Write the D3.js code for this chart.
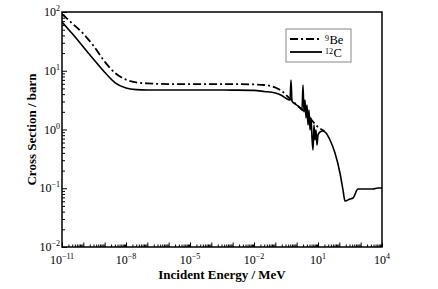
<!DOCTYPE html>
<html>
<head>
<meta charset="utf-8">
<script src="https://cdn.jsdelivr.net/npm/d3@7"></script>
<style>
  body { margin: 0; background: #fff; }
  text { font-family: "Liberation Serif", "Times New Roman", serif; }
</style>
</head>
<body>
<div id="main"></div>
<script>
const ctx = { w: 438, h: 289 };
const margin = { top: 12, right: 56, bottom: 42, left: 62 };

// values (energy in MeV, cross section in barn)
const cEnergy = [1e-11, 3e-11, 1e-10, 3e-10, 1e-9, 3e-9, 1e-8, 3e-8, 1e-7, 1e-6, 1e-4, 1e-3, 1e-2, 3e-2, 0.1, 0.2, 0.4,
    0.487, 0.542, 0.604, 0.836, 1.155, 1.43, 1.78, 1.98, 2.21, 2.46, 2.74, 3.05, 3.40, 3.78, 4.22, 4.70, 5.24, 5.83,
    6.49, 7.23, 8.05, 8.97, 10.0, 12.4, 17.1, 23.7, 36.5, 62.6, 107, 149, 184, 316, 437, 750, 1600, 3790, 6490, 1e4];
const cSigma = [67.6, 42.9, 25.4, 15.7, 9.42, 6.3, 5.07, 4.77, 4.70, 4.70, 4.70, 4.68, 4.64, 4.44, 4.18, 3.79, 3.24,
    3.18, 6.97, 3.05, 2.72, 2.51, 2.32, 2.15, 5.71, 1.99, 3.18, 1.57, 2.61, 1.19, 2.15, 0.98, 1.57, 0.716, 0.448,
    1.19, 0.662, 0.98, 0.544, 0.805, 0.906, 0.942, 0.871, 0.662, 0.398, 0.182, 0.093, 0.0607, 0.0656, 0.0682, 0.097, 0.097, 0.097, 0.101, 0.101];

const beEnergy = [1e-11, 3e-11, 1e-10, 3e-10, 1e-9, 3e-9, 1e-8, 3e-8, 1e-7, 1e-6, 1e-3, 1e-2, 3e-2, 0.1, 0.2, 0.4, 0.8, 1.5, 3, 6, 10, 20];
const beSigma = [92.5, 64, 42.7, 26.6, 14.3, 9.23, 7.06, 6.34, 6.1, 5.94, 5.94, 5.84, 5.72, 5.19, 4.52, 3.57, 2.83, 2.32, 1.84, 1.34, 1.10, 0.94];

const xDecades = d3.range(-11, 5);
const xLabelExp = [-11, -8, -5, -2, 1, 4];
const yDecades = d3.range(-2, 3);
const yLabelExp = [-2, -1, 0, 1, 2];

const legendNames = [{ sup: "9", txt: "Be", dash: "8,3,2,3" }, { sup: "12", txt: "C", dash: null }];

function sup(e) { return String(e).replace("-", "\u2212"); }

const svg = d3.select("#main").append("svg")
    .attr("width", ctx.w).attr("height", ctx.h);

const pw = ctx.w - margin.left - margin.right;
const ph = ctx.h - margin.top - margin.bottom;

const x = d3.scaleLog().domain([1e-11, 1e4]).range([margin.left, margin.left + pw]);
const y = d3.scaleLog().domain([1e-2, 1e2]).range([margin.top + ph, margin.top]);

svg.append("clipPath").attr("id", "clip").append("rect")
    .attr("x", margin.left).attr("y", margin.top).attr("width", pw).attr("height", ph);

// minor + major ticks, pointing inward
const xMinor = [], yMinor = [];
xDecades.slice(0, -1).forEach(e => { for (let k = 2; k < 10; k++) xMinor.push(k * Math.pow(10, e)); });
yDecades.slice(0, -1).forEach(e => { for (let k = 2; k < 10; k++) yMinor.push(k * Math.pow(10, e)); });

svg.append("g").attr("transform", `translate(0,${margin.top + ph})`)
    .call(d3.axisBottom(x).tickValues(xMinor).tickSize(-2.5).tickFormat(""))
    .call(g => g.select(".domain").remove());
svg.append("g").attr("transform", `translate(0,${margin.top + ph})`)
    .call(d3.axisBottom(x).tickValues(xDecades.map(e => Math.pow(10, e))).tickSize(-4.5).tickFormat(""))
    .call(g => g.select(".domain").remove());
svg.append("g").attr("transform", `translate(${margin.left},0)`)
    .call(d3.axisLeft(y).tickValues(yMinor).tickSize(-3).tickFormat(""))
    .call(g => g.select(".domain").remove());
svg.append("g").attr("transform", `translate(${margin.left},0)`)
    .call(d3.axisLeft(y).tickValues(yDecades.map(e => Math.pow(10, e))).tickSize(-5).tickFormat(""))
    .call(g => g.select(".domain").remove());
svg.selectAll(".tick line").attr("stroke", "#000").attr("stroke-width", 1);

// tick labels
const xl = svg.append("g").selectAll("text").data(xLabelExp).enter().append("text")
    .attr("x", d => x(Math.pow(10, d))).attr("y", margin.top + ph + 17)
    .attr("text-anchor", "middle").style("font-size", "12px");
xl.append("tspan").text("10");
xl.append("tspan").attr("dy", -5).style("font-size", "8px").text(d => sup(d));

const yl = svg.append("g").selectAll("text").data(yLabelExp).enter().append("text")
    .attr("x", margin.left - 2).attr("y", d => y(Math.pow(10, d)) + 4)
    .attr("text-anchor", "end").style("font-size", "12px");
yl.append("tspan").text("10");
yl.append("tspan").attr("dy", -5).style("font-size", "8px").text(d => sup(d));

// curves
const line = d3.line().x(d => x(d[0])).y(d => y(d[1])).curve(d3.curveMonotoneX);
const plot = svg.append("g").attr("clip-path", "url(#clip)");

plot.append("path").datum(beEnergy.map((e, i) => [e, beSigma[i]]))
    .attr("d", line).attr("fill", "none").attr("stroke", "#000")
    .attr("stroke-width", 1.8).attr("stroke-dasharray", "8,3,2,3");
plot.append("path").datum(cEnergy.map((e, i) => [e, cSigma[i]]))
    .attr("d", line).attr("fill", "none").attr("stroke", "#000")
    .attr("stroke-width", 1.6).attr("stroke-linejoin", "round");

// frame
svg.append("rect").attr("x", margin.left).attr("y", margin.top).attr("width", pw).attr("height", ph)
    .attr("fill", "none").attr("stroke", "#000").attr("stroke-width", 1.5);

// legend
const lg = svg.append("g").attr("transform", "translate(286,29)");
lg.append("rect").attr("width", 65).attr("height", 33)
    .attr("fill", "#fff").attr("stroke", "#888").attr("stroke-width", 1);
legendNames.forEach((d, i) => {
    const yy = 10 + i * 13;
    lg.append("line").attr("x1", 4).attr("x2", 36).attr("y1", yy).attr("y2", yy)
        .attr("stroke", "#000").attr("stroke-width", 1.8)
        .attr("stroke-dasharray", d.dash);
    const tx = 39 + d.sup.length * 4;
    lg.append("text").attr("x", tx).attr("y", yy + 2)
        .attr("text-anchor", "end").style("font-size", "8px").text(d.sup);
    lg.append("text").attr("x", tx + 0.5).attr("y", yy + 4.5)
        .style("font-size", "12.5px").text(d.txt);
});

// axis titles
svg.append("text").attr("x", margin.left + pw / 2).attr("y", 279)
    .attr("text-anchor", "middle").style("font-size", "13px").style("font-weight", "bold")
    .text("Incident Energy / MeV");
svg.append("text").attr("transform", `translate(36,${margin.top + ph / 2}) rotate(-90)`)
    .attr("text-anchor", "middle").style("font-size", "13px").style("font-weight", "bold")
    .text("Cross Section / barn");
</script>
</body>
</html>
